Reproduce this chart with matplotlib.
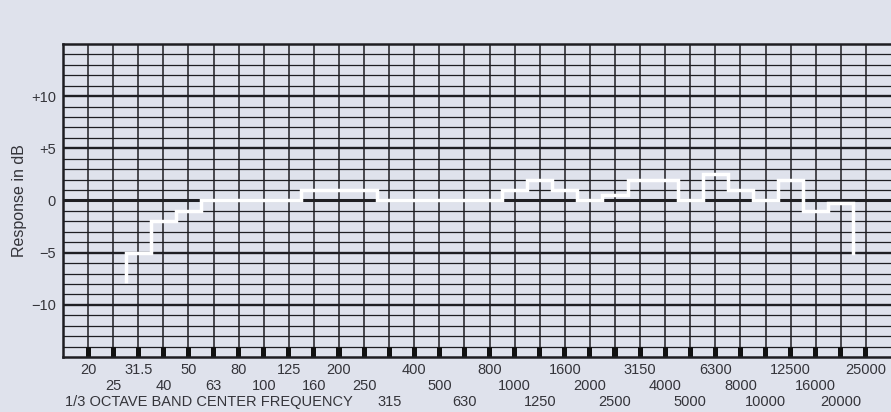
import numpy as np
import matplotlib
matplotlib.use("Agg")
import matplotlib.pyplot as plt

# 1/3 octave band centers (Hz) and which label row each sits in
bands = ["20", "25", "31.5", "40", "50", "63", "80", "100", "125", "160",
         "200", "250", "315", "400", "500", "630", "800", "1000", "1250",
         "1600", "2000", "2500", "3150", "4000", "5000", "6300", "8000",
         "10000", "12500", "16000", "20000", "25000"]
label_row = [1, 2, 1, 2, 1, 2, 1, 2, 1, 2, 1, 2, 3, 1, 2, 3, 1, 2, 3, 1,
             2, 3, 1, 2, 3, 1, 2, 3, 1, 2, 3, 1]

# response per band in dB (nan = not measured)
response = [np.nan, np.nan, -5, -2, -1, 0, 0, 0, 0, 1, 1, 1, 0, 0, 0, 0, 0,
            1, 2, 1, 0, 0.5, 2, 2, 0, 2.5, 1, 0, 2, -1, -0.2, np.nan]
start_tail = -7.7
end_tail = -5

bg = "#dfe2ec"
ink = "#1e1e22"
txt = "#34343a"

plt.rcParams["font.family"] = ["Liberation Sans", "DejaVu Sans"]

fig = plt.figure(figsize=(8.91, 4.12), dpi=100, facecolor=bg)
ax = fig.add_axes([63 / 891, 1 - 357 / 412, 1 - 63 / 891, (357 - 44) / 412])
ax.set_facecolor(bg)

n = len(bands)
idx = np.arange(n)
ax.set_xlim(-1, n)
ax.set_ylim(-15, 15)

# grid
for i in idx:
    ax.axvline(i, color=ink, lw=1.1, zorder=1)
for y in range(-14, 15):
    lw = 2.2 if y == 0 else (1.7 if y % 5 == 0 else 0.9)
    ax.axhline(y, color=ink, lw=lw, zorder=1)

# black band markers along the bottom row
ax.bar(idx, 1, bottom=-15, width=0.2, color="#111111", zorder=2)

for side in ["left", "bottom", "top"]:
    ax.spines[side].set_linewidth(1.8)
    ax.spines[side].set_color(ink)
ax.spines["right"].set_visible(False)

# stepped response trace
resp = np.array(response, dtype=float)
valid = idx[~np.isnan(resp)]
xs = [valid[0] - 0.5]
ys = [start_tail]
for i in valid:
    xs += [i - 0.5, i + 0.5]
    ys += [resp[i], resp[i]]
xs.append(valid[-1] + 0.5)
ys.append(end_tail)
ax.plot(xs, ys, color="white", lw=2.5, solid_joinstyle="miter", zorder=3)

# axes text
ax.set_xticks([])
ax.set_yticks([-10, -5, 0, 5, 10])
ax.set_yticklabels(["\u221210", "\u22125", "0", "+5", "+10"], fontsize=10.5, color=txt)
ax.tick_params(axis="y", length=0, pad=5)
ax.set_ylabel("Response in dB", fontsize=11.5, color=txt, labelpad=3)

row_y = {1: -0.042, 2: -0.093, 3: -0.144}
xt = ax.get_xaxis_transform()
for i, (lab, r) in enumerate(zip(bands, label_row)):
    ax.text(i, row_y[r], lab, transform=xt, ha="center", va="center",
            fontsize=10.5, color=txt, clip_on=False)
ax.text(-0.92, row_y[3], "1/3 OCTAVE BAND CENTER FREQUENCY", transform=xt,
        ha="left", va="center", fontsize=10.5, color=txt)

fig.savefig("out.png", dpi=100, facecolor=bg)
